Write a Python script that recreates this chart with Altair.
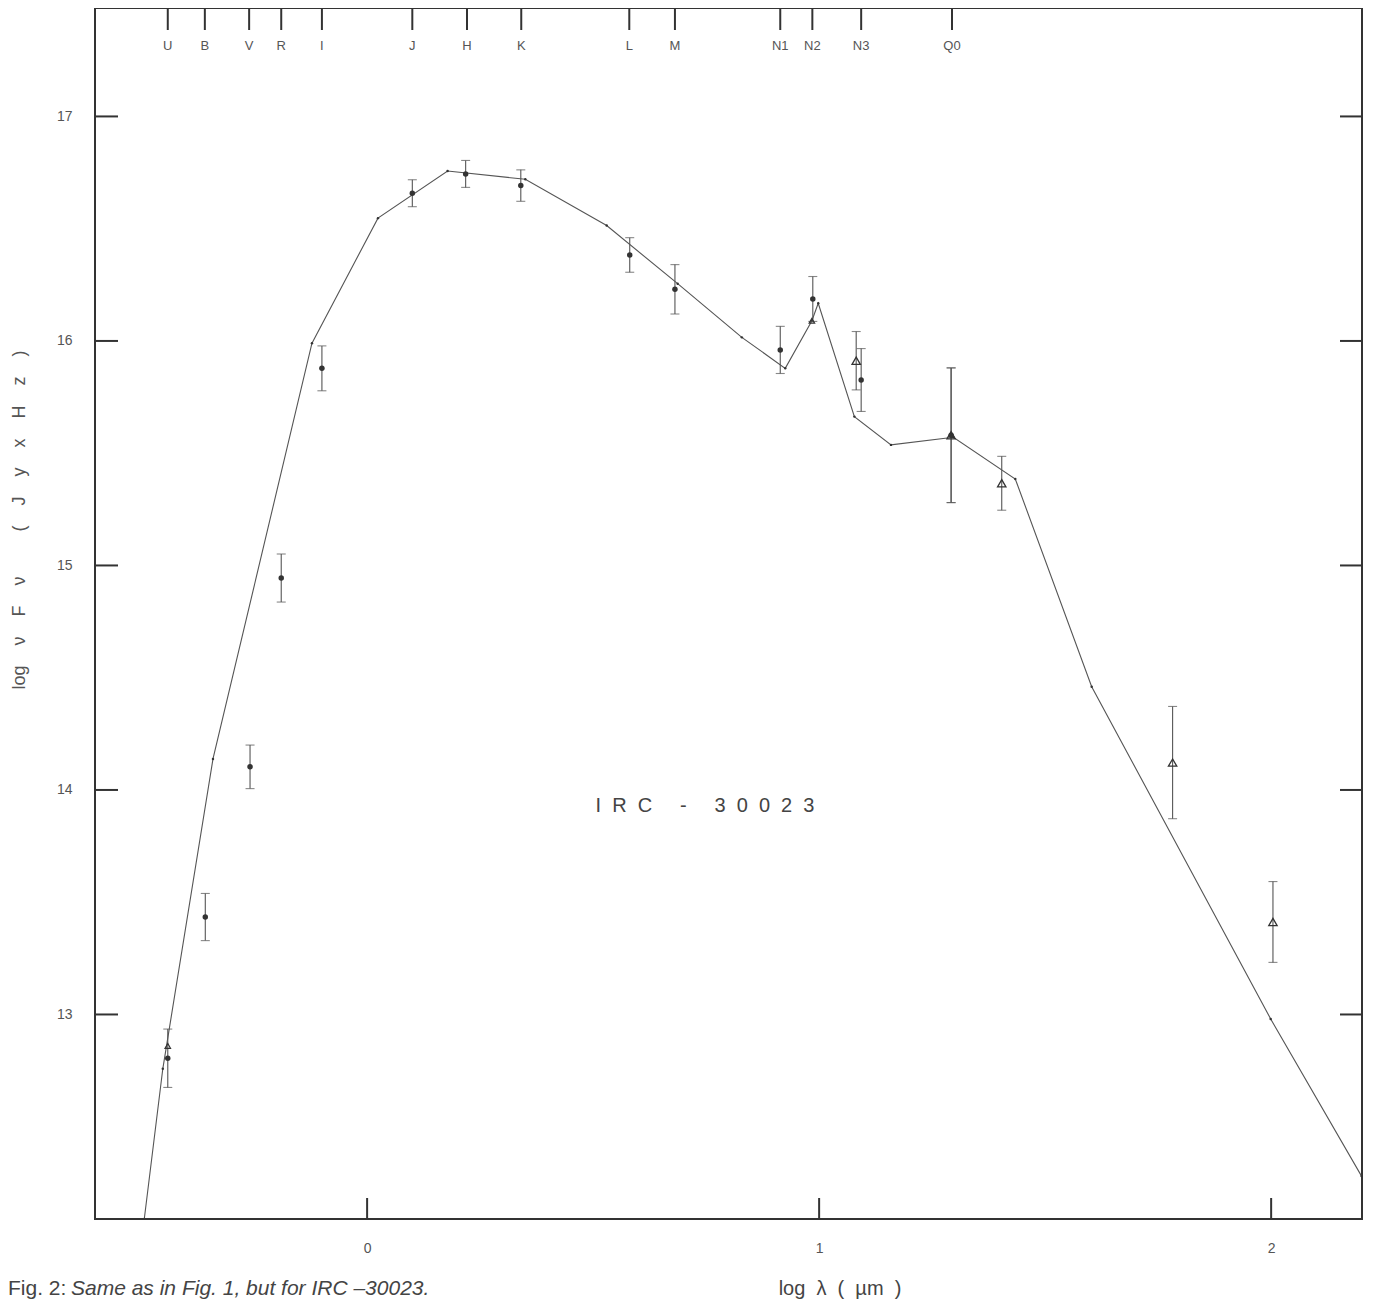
import altair as alt
import pandas as pd

# ---- data ----
band_names = ["U", "B", "V", "R", "I", "J", "H", "K", "L", "M", "N1", "N2", "N3", "Q0"]
band_logl = [-0.441, -0.359, -0.261, -0.190, -0.100, 0.100, 0.221, 0.341, 0.580, 0.681, 0.914, 0.985, 1.093, 1.294]

circ_x = [-0.441, -0.358, -0.259, -0.190, -0.100, 0.100, 0.218, 0.340, 0.581, 0.681, 0.914, 0.986, 1.093, 1.292]
circ_y = [12.805, 13.434, 14.103, 14.944, 15.878, 16.658, 16.744, 16.692, 16.383, 16.230, 15.960, 16.187, 15.826, 15.580]
circ_err = [0.13, 0.105, 0.097, 0.107, 0.10, 0.06, 0.06, 0.07, 0.077, 0.11, 0.105, 0.10, 0.14, 0.30]

tri_x = [1.082, 1.292, 1.404, 1.782, 2.004]
tri_y = [15.912, 15.580, 15.366, 14.122, 13.412]
tri_err = [0.13, 0.30, 0.12, 0.25, 0.18]

tri_small_x = [-0.441, 0.984]
tri_small_y = [12.860, 16.090]

model_x = [-0.493, -0.452, -0.341, -0.122, 0.024, 0.178, 0.350, 0.530, 0.687, 0.829, 0.925, 0.984, 0.998,
           1.078, 1.159, 1.297, 1.434, 1.603, 1.999, 2.200]
model_y = [12.089, 12.758, 14.138, 15.990, 16.547, 16.757, 16.720, 16.514, 16.255, 16.016, 15.878, 16.090, 16.168,
           15.663, 15.537, 15.571, 15.385, 14.460, 12.980, 12.280]

y_ticks = [13, 14, 15, 16, 17]
x_ticks = [0, 1, 2]

W, H = 1267, 1211
XD = [-0.602, 2.201]
YD = [12.089, 17.483]
INK = "#333333"
GREY = "#555555"
FONT = "Liberation Sans"
SP = "\u00a0"

xs = alt.Scale(domain=XD, nice=False, zero=False)
ys = alt.Scale(domain=YD, nice=False, zero=False)

circ = pd.DataFrame({"x": circ_x, "y": circ_y, "lo": [a - b for a, b in zip(circ_y, circ_err)],
                     "hi": [a + b for a, b in zip(circ_y, circ_err)]})
tri = pd.DataFrame({"x": tri_x, "y": tri_y, "lo": [a - b for a, b in zip(tri_y, tri_err)],
                    "hi": [a + b for a, b in zip(tri_y, tri_err)]})
err = pd.concat([circ, tri], ignore_index=True)
tri_s = pd.DataFrame({"x": tri_small_x, "y": tri_small_y})
model = pd.DataFrame({"x": model_x, "y": model_y, "o": list(range(len(model_x)))})
bands = pd.DataFrame({"x": band_logl, "name": band_names})
yt = pd.DataFrame({"v": y_ticks})
xt = pd.DataFrame({"v": x_ticks})

xaxis = alt.Axis(values=x_ticks, ticks=False, domain=False, grid=False, labelPadding=22,
                 labelFontSize=14, labelColor=GREY, labelFont=FONT, title=None, format="d")
yaxis = alt.Axis(values=y_ticks, ticks=False, domain=False, grid=False, labelPadding=23,
                 labelFontSize=14, labelColor=GREY, labelFont=FONT, title=None, format="d")

line = alt.Chart(model).mark_line(color=GREY, strokeWidth=1.1, clip=True).encode(
    x=alt.X("x:Q", scale=xs, axis=xaxis),
    y=alt.Y("y:Q", scale=ys, axis=yaxis),
    order="o:Q",
)
vert = alt.Chart(model).mark_circle(color=INK, size=6, opacity=1, clip=True).encode(
    x=alt.X("x:Q", scale=xs), y=alt.Y("y:Q", scale=ys))

bars = alt.Chart(err).mark_rule(color=GREY, strokeWidth=1.1).encode(
    x=alt.X("x:Q", scale=xs), y=alt.Y("lo:Q", scale=ys), y2="hi:Q")
cap_lo = alt.Chart(err).mark_tick(color=GREY, orient="horizontal", size=9, thickness=1.1).encode(
    x=alt.X("x:Q", scale=xs), y=alt.Y("lo:Q", scale=ys))
cap_hi = alt.Chart(err).mark_tick(color=GREY, orient="horizontal", size=9, thickness=1.1).encode(
    x=alt.X("x:Q", scale=xs), y=alt.Y("hi:Q", scale=ys))

dots = alt.Chart(circ).mark_point(shape="circle", filled=True, color=INK, size=30, opacity=1).encode(
    x=alt.X("x:Q", scale=xs), y=alt.Y("y:Q", scale=ys))
tris = alt.Chart(tri).mark_point(shape="triangle-up", filled=False, color=INK, size=70, strokeWidth=1.3,
                                 opacity=1).encode(x=alt.X("x:Q", scale=xs), y=alt.Y("y:Q", scale=ys))
tris_s = alt.Chart(tri_s).mark_point(shape="triangle-up", filled=False, color=INK, size=30, strokeWidth=1.2,
                                     opacity=1).encode(x=alt.X("x:Q", scale=xs), y=alt.Y("y:Q", scale=ys))

# inward ticks on the frame
lt = alt.Chart(yt).mark_rule(color=INK, strokeWidth=2).encode(
    y=alt.Y("v:Q", scale=ys), x=alt.value(0), x2=alt.value(23))
rt = alt.Chart(yt).mark_rule(color=INK, strokeWidth=2).encode(
    y=alt.Y("v:Q", scale=ys), x=alt.value(W), x2=alt.value(W - 22))
bt = alt.Chart(xt).mark_rule(color=INK, strokeWidth=2).encode(
    x=alt.X("v:Q", scale=xs), y=alt.value(H), y2=alt.value(H - 21))
tt = alt.Chart(bands).mark_rule(color=INK, strokeWidth=2).encode(
    x=alt.X("x:Q", scale=xs), y=alt.value(0), y2=alt.value(22))
tl = alt.Chart(bands).mark_text(color=GREY, fontSize=13, font=FONT, baseline="middle", align="center").encode(
    x=alt.X("x:Q", scale=xs), y=alt.value(38), text="name:N")


def label(txt, x, y, size, angle=0, align="center", style="normal", color=GREY, baseline="middle"):
    return alt.Chart(pd.DataFrame({"t": [txt]})).mark_text(
        fontSize=size, font=FONT, color=color, angle=angle, align=align, fontStyle=style,
        baseline=baseline).encode(x=alt.value(x), y=alt.value(y), text="t:N")


def spaced(parts, gap):
    return (SP * gap).join(parts)


name = label(spaced(["I", "R", "C", SP, "-", SP, "3", "0", "0", "2", "3"], 2), 610, 798, 20, color="#444444")
ytitle = label(spaced(["log", "ν", "F", "ν", SP, "(", "J", "y", "x", "H", "z", ")"], 4), -75, 512, 18,
               angle=270)
xtitle = label(spaced(["log", "λ", "(", "µm", ")"], 2), 745, 1281, 20, color="#444444")
cap1 = label("Fig. 2:", -87, 1281, 21, align="left", color="#444444")
cap2 = label("Same as in Fig. 1, but for IRC –30023.", -24, 1281, 21, align="left", style="italic",
             color="#444444")

chart = alt.layer(line, vert, bars, cap_lo, cap_hi, dots, tris, tris_s, lt, rt, bt, tt, tl,
                  name, ytitle, xtitle, cap1, cap2).properties(
    width=W, height=H,
    autosize=alt.AutoSizeParams(type="none"),
    padding={"left": 87, "top": 0, "right": 4, "bottom": 86},
    background="white",
).configure_view(stroke=INK, strokeWidth=2)

chart.save("out.html", embed_options={"renderer": "svg", "actions": False})
